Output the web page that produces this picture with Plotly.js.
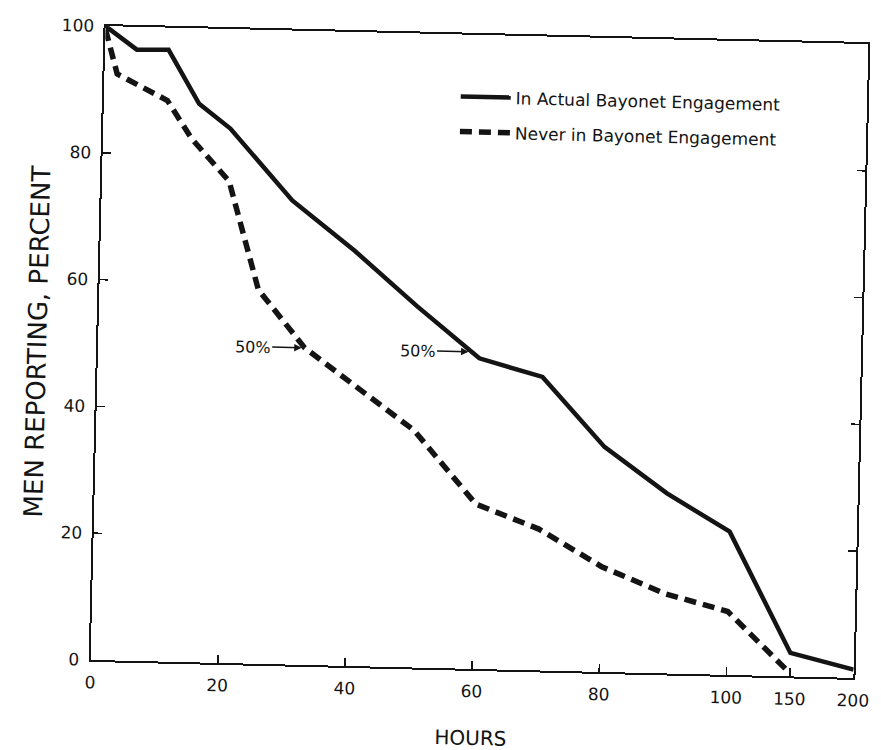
<!DOCTYPE html>
<html><head><meta charset="utf-8">
<script src="https://cdn.plot.ly/plotly-3.0.1.min.js"></script>
<style>
html,body{margin:0;padding:0;background:#fff;overflow:hidden;}
#chart{width:881px;height:750px;transform:rotate(1.35deg);transform-origin:479.5px 352px;}
</style></head><body><div id="chart"></div>
<script>
// ---- data ----
const hoursActual = [0, 5, 10, 15, 20, 30, 40, 50, 60, 70, 80, 90, 100, 150, 200];
const pctActual   = [100, 96.4, 96.5, 88.1, 84.3, 73.2, 65.5, 57, 49, 46.3, 35.5, 28.4, 22.6, 3.7, 1.3];
const hoursNever  = [0, 2, 10, 14, 20, 25, 32.5, 50, 60, 70, 80, 90, 100, 150];
const pctNever    = [99.5, 92.5, 88.5, 82.5, 76, 59, 50, 37.4, 26, 22.3, 16.6, 12.6, 10, 0.5];
const tickHours   = [0, 20, 40, 60, 80, 100, 150, 200];
const tickLabels  = ['0', '20', '40', '60', '80', '100', '150', '200'];
const yTicks      = [0, 20, 40, 60, 80, 100];
const seriesNames = ['In Actual Bayonet Engagement', 'Never in Bayonet Engagement'];
const medianLevel = 50;
const medianLabel = '50%';

// the hours axis is compressed beyond 100 h (each hour there takes a fifth of the room)
function axisPos(h) { return h <= 100 ? h : 100 + (h - 100) * 0.2; }
function crossing(xs, ys, level) {
  for (let i = 1; i < ys.length; i++) {
    if ((ys[i - 1] - level) * (ys[i] - level) <= 0) {
      const t = (ys[i - 1] - level) / (ys[i - 1] - ys[i]);
      return xs[i - 1] + t * (xs[i] - xs[i - 1]);
    }
  }
  return null;
}

const ink = '#141414';
const FONT = 'DejaVu Sans, sans-serif';

const traces = [
  {
    x: hoursActual.map(axisPos), y: pctActual, customdata: hoursActual,
    type: 'scatter', mode: 'lines', name: seriesNames[0], legendgroup: 'a',
    line: {color: ink, width: 4.5}
  },
  {
    x: hoursNever.map(axisPos), y: pctNever, customdata: hoursNever,
    type: 'scatter', mode: 'lines', name: seriesNames[1], legendgroup: 'b',
    line: {color: ink, width: 5.5, dash: '12px,7px'}
  }
];

const annFont = {family: FONT, size: 16, color: ink};
const layout = {
  width: 881, height: 750,
  margin: {l: 98, r: 20, t: 35, b: 81, pad: 0},
  paper_bgcolor: '#ffffff', plot_bgcolor: '#ffffff',
  font: {family: FONT, color: ink},
  showlegend: true,
  legend: {
    x: 0.461, y: 0.93, xanchor: 'left', yanchor: 'top',
    bgcolor: 'rgba(0,0,0,0)', borderwidth: 0,
    font: {family: FONT, size: 17, color: ink},
    itemwidth: 50, traceorder: 'grouped', tracegroupgap: 10
  },
  xaxis: {
    range: [0, axisPos(200)], tickmode: 'array',
    tickvals: tickHours.map(axisPos), ticktext: tickLabels,
    ticks: 'inside', ticklen: 8, tickwidth: 1.5, tickcolor: ink,
    showline: true, linewidth: 2, linecolor: ink, mirror: true,
    showgrid: false, zeroline: false,
    tickfont: {family: FONT, size: 17, color: ink},
    ticklabelstandoff: 6,
    title: {text: 'HOURS', font: {family: FONT, size: 20, color: ink}, standoff: 32},
    automargin: false
  },
  yaxis: {
    range: [0, 100], tickmode: 'array', tickvals: yTicks,
    ticks: 'inside', ticklen: 8, tickwidth: 1.5, tickcolor: ink,
    showline: true, linewidth: 2, linecolor: ink, mirror: 'ticks',
    showgrid: false, zeroline: false,
    tickfont: {family: FONT, size: 17, color: ink},
    ticklabelstandoff: 6,
    title: {text: 'MEN REPORTING, PERCENT', font: {family: FONT, size: 26, color: ink}, standoff: 0},
    automargin: false
  },
  annotations: [
    {
      x: axisPos(crossing(hoursNever, pctNever, medianLevel)), y: medianLevel,
      xref: 'x', yref: 'y', text: medianLabel, font: annFont,
      showarrow: true, ax: -52, ay: 0, arrowhead: 2, arrowsize: 1, arrowwidth: 1.5,
      arrowcolor: ink, standoff: 3
    },
    {
      x: axisPos(crossing(hoursActual, pctActual, medianLevel)), y: medianLevel,
      xref: 'x', yref: 'y', text: medianLabel, font: annFont,
      showarrow: true, ax: -54, ay: 0, arrowhead: 2, arrowsize: 1, arrowwidth: 1.5,
      arrowcolor: ink, standoff: 3
    }
  ]
};

Plotly.newPlot('chart', traces, layout, {staticPlot: true, displayModeBar: false});
</script>
</body></html>
